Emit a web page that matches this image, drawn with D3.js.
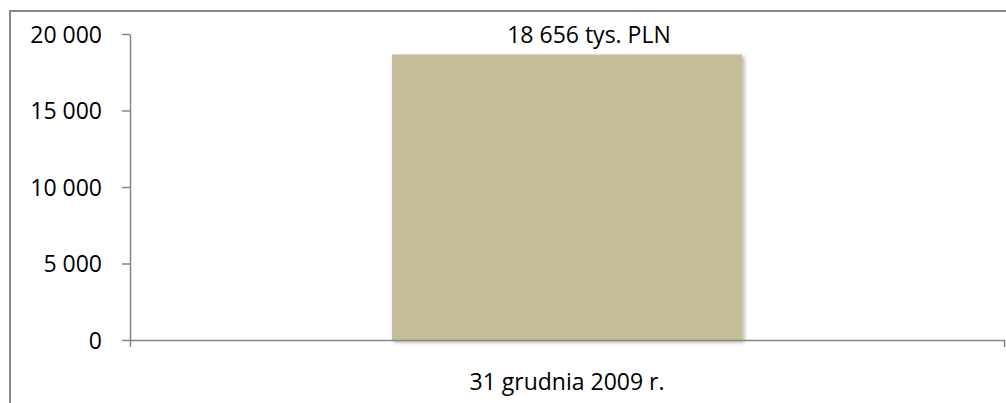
<!DOCTYPE html>
<html>
<head>
<meta charset="utf-8">
<script src="https://cdn.jsdelivr.net/npm/d3@7"></script>
<style>
  body { margin: 0; background: #fff; }
  svg { display: block; font-family: "Open Sans", sans-serif; }
  .axis path, .axis line { stroke: #868686; stroke-width: 1.5; }
  .axis text { fill: #000; font-size: 23px; font-family: "Open Sans", sans-serif; }
</style>
</head>
<body>
<div id="chart"></div>
<script>

const categories = ["31 grudnia 2009 r."];
const values = [18656];
const valueLabels = ["18 656 tys. PLN"];
const yTicks = [0, 5000, 10000, 15000, 20000];

function drawChart(element) {

  const W = 1006, H = 403;
  const margin = {top: 34, right: 2, bottom: 63, left: 130};
  const width = W - margin.left - margin.right;
  const height = H - margin.top - margin.bottom;

  const xScale = d3.scaleBand()
    .domain(categories)
    .range([0, width])
    .padding(0.428);
  const yScale = d3.scaleLinear()
    .domain([0, 20000])
    .range([height, 0]);

  const fmt = function (d) {
    return d3.format(",")(d).replace(/,/g, " ");
  };

  const svg = d3.select(element)
    .append("svg")
    .attr("width", W)
    .attr("height", H);

  // drop shadow for the bar
  const filter = svg.append("defs").append("filter")
    .attr("id", "shadow")
    .attr("x", "-10%").attr("y", "-10%")
    .attr("width", "130%").attr("height", "130%");
  filter.append("feDropShadow")
    .attr("dx", 2).attr("dy", 2)
    .attr("stdDeviation", 2)
    .attr("flood-color", "#000")
    .attr("flood-opacity", 0.35);

  // outer frame (only top and left visible)
  svg.append("path")
    .attr("d", "M10," + H + "V11H" + W)
    .attr("fill", "none")
    .attr("stroke", "#888")
    .attr("stroke-width", 2);

  const g = svg.append("g")
    .attr("transform", "translate(" + margin.left + "," + margin.top + ")");

  g.selectAll(".bar")
    .data(values)
    .enter()
    .append("rect")
    .attr("class", "bar")
    .attr("x", function (d, i) { return xScale(categories[i]); })
    .attr("width", xScale.bandwidth())
    .attr("y", function (d) { return yScale(d); })
    .attr("height", function (d) { return yScale(0) - yScale(d); })
    .attr("fill", "#C4BD97")
    .attr("filter", "url(#shadow)");

  const yAxis = d3.axisLeft(yScale)
    .tickValues(yTicks)
    .tickFormat(fmt)
    .tickSize(8)
    .tickSizeOuter(0)
    .tickPadding(20);
  g.append("g")
    .attr("class", "axis")
    .call(yAxis)
    .call(function (a) { a.selectAll("text").attr("dy", "0.36em"); });

  // x axis with ticks at both ends, like the category boundaries
  const xAxis = d3.axisBottom(xScale)
    .tickSize(0)
    .tickSizeOuter(7)
    .tickPadding(34);
  g.append("g")
    .attr("class", "axis")
    .attr("transform", "translate(0," + height + ")")
    .call(xAxis);

  g.selectAll(".val")
    .data(values)
    .enter()
    .append("text")
    .attr("class", "val")
    .attr("x", function (d, i) { return xScale(categories[i]) + xScale.bandwidth() / 2 + 22; })
    .attr("y", function (d) { return yScale(d) - 12; })
    .attr("text-anchor", "middle")
    .attr("font-size", 23)
    .attr("fill", "#000")
    .text(function (d, i) { return valueLabels[i]; });
}

drawChart("#chart");
</script>
</body>
</html>
